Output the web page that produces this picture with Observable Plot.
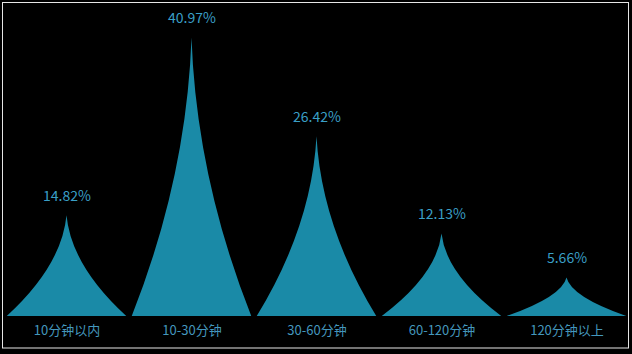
<!DOCTYPE html>
<html>
<head>
<meta charset="utf-8">
<script src="https://cdn.jsdelivr.net/npm/d3@7"></script>
<script src="https://cdn.jsdelivr.net/npm/@observablehq/plot@0.6"></script>
<style>
  html, body { margin: 0; padding: 0; background: #000; }
  #chart { width: 632px; height: 354px; }
</style>
</head>
<body>
<div id="chart"></div>
<script>
const categories = ["10分钟以内", "10-30分钟", "30-60分钟", "60-120分钟", "120分钟以上"];
const values = [14.82, 40.97, 26.42, 12.13, 5.66];
const valueLabels = ["14.82%", "40.97%", "26.42%", "12.13%", "5.66%"];

const data = categories.map((c, i) => ({category: c, value: values[i], label: valueLabels[i]}));

const fillColor = "#1a8aa7";
const valueColor = "#3a9fc6";
const catColor = "#4497bd";
const font = "'Noto Sans CJK SC', 'Noto Sans', sans-serif";

// pictorial spike shapes drawn from the plot's own scales
function spikes(index, scales, values_, dimensions) {
  const x = scales.x, y = scales.y;
  const g = d3.create("svg:g");
  const bw = x.bandwidth();
  data.forEach(d => {
    const cx = x(d.category) + bw / 2;
    const hw = bw * 0.478;
    const y0 = y(0), y1 = y(d.value);
    const ym = (y0 + y1) / 2;
    const c = 0.08 * hw;
    g.append("path")
      .attr("d", `M${cx - hw},${y0} Q${cx - c},${ym} ${cx},${y1} Q${cx + c},${ym} ${cx + hw},${y0} Z`)
      .attr("fill", fillColor);
  });
  return g.node();
}

function border(index, scales, values_, dimensions) {
  return d3.create("svg:rect")
    .attr("x", 2.5).attr("y", 2.5)
    .attr("width", dimensions.width - 6).attr("height", dimensions.height - 8.5)
    .attr("fill", "none").attr("stroke", "#e6e6e6").attr("stroke-width", 1)
    .node();
}

const plot = Plot.plot({
  width: 632,
  height: 354,
  marginTop: 10,
  marginBottom: 38,
  marginLeft: 3.5,
  marginRight: 3.5,
  style: {background: "#000", fontFamily: font},
  x: {type: "band", domain: categories, padding: 0, axis: null},
  y: {domain: [0, 45], axis: null},
  marks: [
    border,
    spikes,
    Plot.text(data, {
      x: "category", y: "value", text: "label",
      dy: -19.5, lineAnchor: "middle",
      fill: valueColor, fontSize: 14, fontFamily: font
    }),
    Plot.text(data, {
      x: "category", text: "category", frameAnchor: "bottom",
      dy: 14, lineAnchor: "middle",
      fill: catColor, fontSize: 13, fontFamily: font
    })
  ]
});
document.getElementById("chart").appendChild(plot);
</script>
</body>
</html>
